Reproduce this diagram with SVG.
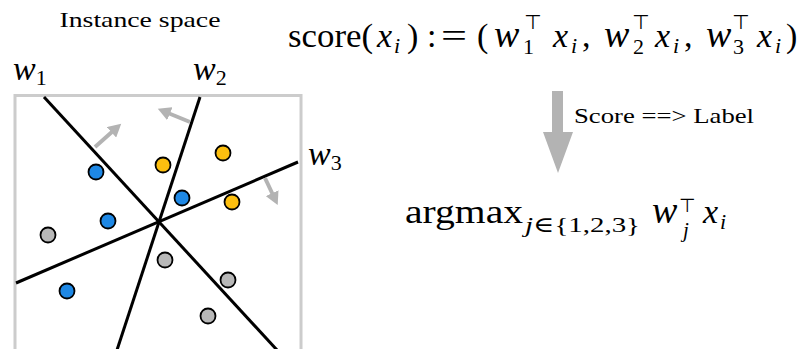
<svg xmlns="http://www.w3.org/2000/svg" width="806" height="349" viewBox="0 0 806 349">
<defs>
<style>
.t{font-family:"Liberation Serif","DejaVu Serif",serif;fill:#000}
.it{font-style:italic}
.sym{font-family:"DejaVu Sans",sans-serif}
.sep{stroke:#000;stroke-width:3;fill:none}
.nrm{stroke:#b3b3b3;stroke-width:4;fill:none;marker-end:url(#ah)}
.pt{stroke:#000;stroke-width:1.8}
.b{fill:#1e88e5}.y{fill:#fdbf0f}.g{fill:#b8b8b8}
</style>
<marker id="ah" markerUnits="userSpaceOnUse" markerWidth="14" markerHeight="14" refX="2" refY="7" orient="auto" viewBox="0 0 14 14">
<path d="M0,0 L13,7 L0,14 Z" fill="#b3b3b3"/>
</marker>
</defs>
<g id="instance-space">
<text class="t" x="140" y="27" font-size="21" text-anchor="middle" textLength="161" lengthAdjust="spacingAndGlyphs">Instance space</text>
<rect x="15" y="95.5" width="286" height="270" fill="none" stroke="#cccccc" stroke-width="3"/>
</g>
<g id="connectors">
<line class="sep" x1="44" y1="97" x2="277" y2="350"/>
<line class="sep" x1="200" y1="97" x2="117" y2="350"/>
<line class="sep" x1="298" y1="162" x2="16" y2="283"/>
<line class="nrm" x1="95" y1="147" x2="113" y2="131"/>
<line class="nrm" x1="190" y1="122" x2="168" y2="113"/>
<line class="nrm" x1="265" y1="178" x2="273" y2="195"/>
</g>
<g id="labels-w">
<text class="t it" x="13" y="80" font-size="34">w<tspan font-size="22" font-style="normal" dy="5">1</tspan></text>
<text class="t it" x="193" y="80" font-size="34">w<tspan font-size="22" font-style="normal" dy="5">2</tspan></text>
<text class="t it" x="308" y="165" font-size="34">w<tspan font-size="22" font-style="normal" dy="5">3</tspan></text>
</g>
<g id="points">
<circle class="pt b" cx="96" cy="172" r="7.5"/>
<circle class="pt b" cx="108" cy="221" r="7.5"/>
<circle class="pt b" cx="182" cy="198" r="7.5"/>
<circle class="pt b" cx="67" cy="291" r="7.5"/>
<circle class="pt y" cx="163" cy="165" r="7.5"/>
<circle class="pt y" cx="223" cy="153" r="7.5"/>
<circle class="pt y" cx="232" cy="202" r="7.5"/>
<circle class="pt g" cx="48" cy="235" r="7.5"/>
<circle class="pt g" cx="165" cy="260" r="7.5"/>
<circle class="pt g" cx="228" cy="280" r="7.5"/>
<circle class="pt g" cx="208" cy="316" r="7.5"/>
</g>
<g id="score-formula" class="t" font-size="34">
<text x="288" y="47" textLength="85" lengthAdjust="spacingAndGlyphs">score(</text>
<text class="it" x="377" y="47">x</text>
<text class="it" x="394" y="53" font-size="22">i</text>
<text x="407" y="47">)</text>
<text x="427" y="47">:</text>
<text x="441" y="47" textLength="26" lengthAdjust="spacingAndGlyphs">=</text>
<text x="477" y="47">(</text>
<text class="it" x="494" y="47" font-size="38">w</text>
<text class="sym" x="524" y="29" font-size="20">⊤</text>
<text x="523" y="54" font-size="22">1</text>
<text class="it" x="553" y="47">x</text>
<text class="it" x="571" y="53" font-size="22">i</text>
<text x="582" y="47">,</text>
<text class="it" x="604" y="47" font-size="38">w</text>
<text class="sym" x="632" y="29" font-size="20">⊤</text>
<text x="633" y="54" font-size="22">2</text>
<text class="it" x="655" y="47">x</text>
<text class="it" x="673" y="53" font-size="22">i</text>
<text x="684" y="47">,</text>
<text class="it" x="706" y="47" font-size="38">w</text>
<text class="sym" x="732" y="29" font-size="20">⊤</text>
<text x="733" y="54" font-size="22">3</text>
<text class="it" x="757" y="47">x</text>
<text class="it" x="775" y="53" font-size="22">i</text>
<text x="786" y="47">)</text>
</g>
<g id="score-to-label">
<polygon points="552,91 563,91 563,132 573,132 558,173 543,132 552,132" fill="#b3b3b3"/>
<text class="t" x="574" y="123" font-size="21" textLength="180" lengthAdjust="spacingAndGlyphs">Score ==&gt; Label</text>
</g>
<g id="argmax-formula" class="t" font-size="34">
<text x="405" y="223" textLength="118" lengthAdjust="spacingAndGlyphs">argmax</text>
<text x="525" y="232" font-size="22" textLength="115" lengthAdjust="spacingAndGlyphs"><tspan font-style="italic">j</tspan>∈{1,2,3}</text>
<text class="it" x="652" y="223" font-size="38">w</text>
<text class="sym" x="679" y="212" font-size="19">⊤</text>
<text class="it" x="683" y="237" font-size="21">j</text>
<text class="it" x="703" y="223">x</text>
<text class="it" x="720" y="229" font-size="22">i</text>
</g>
</svg>
